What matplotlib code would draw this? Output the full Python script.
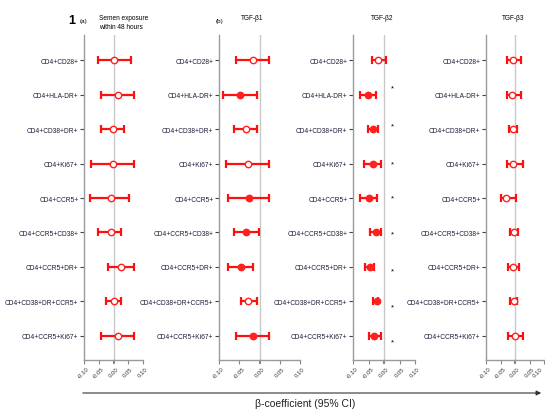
import numpy as np
import matplotlib
matplotlib.use('Agg')
import matplotlib.pyplot as plt

plt.rcParams['font.family'] = ['Liberation Sans', 'DejaVu Sans']

# row labels for each panel (top to bottom)
labels = ['CD4+CD28+', 'CD4+HLA-DR+', 'CD4+CD38+DR+', 'CD4+Ki67+', 'CD4+CCR5+',
          'CD4+CCR5+CD38+', 'CD4+CCR5+DR+', 'CD4+CD38+DR+CCR5+', 'CD4+CCR5+Ki67+']

# (a) semen exposure within 48 hours
semen_est = [0.003, 0.014, -0.003, -0.003, -0.010, -0.010, 0.024, 0.000, 0.014]
semen_lo = [-0.051, -0.041, -0.041, -0.075, -0.078, -0.051, -0.017, -0.027, -0.041]
semen_hi = [0.061, 0.071, 0.037, 0.071, 0.051, 0.027, 0.071, 0.027, 0.071]
semen_sig = [0, 0, 0, 0, 0, 0, 0, 0, 0]

# (b) TGF-b1
tgf1_est = [-0.017, -0.049, -0.034, -0.029, -0.027, -0.034, -0.046, -0.029, -0.017]
tgf1_lo = [-0.059, -0.090, -0.063, -0.083, -0.078, -0.063, -0.078, -0.046, -0.059]
tgf1_hi = [0.024, -0.007, -0.007, 0.024, 0.024, -0.002, -0.015, -0.007, 0.024]
tgf1_sig = [0, 1, 0, 0, 1, 1, 1, 0, 1]

# TGF-b2
tgf2_est = [-0.018, -0.053, -0.034, -0.037, -0.050, -0.027, -0.044, -0.024, -0.031]
tgf2_lo = [-0.040, -0.076, -0.053, -0.066, -0.076, -0.044, -0.060, -0.034, -0.050]
tgf2_hi = [0.005, -0.027, -0.018, -0.011, -0.021, -0.011, -0.031, -0.018, -0.011]
tgf2_sig = [0, 1, 1, 1, 1, 1, 1, 1, 1]
tgf2_star = ['', '*', '*', '*', '*', '*', '*', '*', '*']
star_shift = [0, -0.2, -0.1, 0, 0, 0.05, 0.12, 0.15, 0.18]

# TGF-b3
tgf3_est = [-0.007, -0.010, -0.007, -0.007, -0.030, -0.003, -0.007, -0.003, 0.000]
tgf3_lo = [-0.027, -0.027, -0.020, -0.027, -0.050, -0.017, -0.023, -0.017, -0.023]
tgf3_hi = [0.020, 0.020, 0.007, 0.027, 0.003, 0.010, 0.013, 0.007, 0.027]
tgf3_sig = [0, 0, 0, 0, 0, 0, 0, 0, 0]

xticks = [-0.10, -0.05, 0.00, 0.05, 0.10]

W, H = 545, 410
fig = plt.figure(figsize=(W / 100, H / 100), dpi=100)

panels = [
    (84, 59, semen_est, semen_lo, semen_hi, semen_sig),
    (219, 81, tgf1_est, tgf1_lo, tgf1_hi, tgf1_sig),
    (353, 62, tgf2_est, tgf2_lo, tgf2_hi, tgf2_sig),
    (486, 58, tgf3_est, tgf3_lo, tgf3_hi, tgf3_sig),
]

axes = []
for x0, w, est, lo, hi, sig in panels:
    ax = fig.add_axes([x0 / W, (H - 361) / H, w / W, 325 / H])
    axes.append(ax)
    est = np.array(est)
    y = np.arange(len(labels))
    err = [est - np.array(lo), np.array(hi) - est]
    ax.axvline(0, color='#c8c8c8', lw=1.0, zorder=0)
    ax.errorbar(est, y, xerr=err, fmt='none', ecolor='#ff1010', elinewidth=1.6,
                capsize=2.8, capthick=1.6, zorder=2)
    for yi, e, s in zip(y, est, sig):
        ax.plot(e, yi, 'o', ms=4.6, mec='#ff2020', mew=1.0,
                mfc='#ff2020' if s else 'white', zorder=3)
    ax.set_xlim(-0.10, 0.10)
    ax.set_ylim(8.7, -0.73)
    ax.set_yticks(y)
    ax.set_yticklabels(labels, fontsize=4.8, color='#1c1c3a')
    ax.set_xticks(xticks)
    ax.set_xticklabels(['%.2f' % t for t in xticks], fontsize=4.3, rotation=45,
                       color='#333333')
    ax.tick_params(axis='y', length=3, width=0.8, color='#444444', pad=1)
    ax.tick_params(axis='x', length=3, width=0.8, color='#888888', pad=1)
    for lab in ax.get_xticklabels():
        lab.set_ha('center')
    ax.get_xticklines()[4].set_color('black')
    ax.get_xticklines()[4].set_markeredgewidth(1.5)
    for sp in ['top', 'right']:
        ax.spines[sp].set_visible(False)
    for sp in ['left', 'bottom']:
        ax.spines[sp].set_color('#9a9a9a')
        ax.spines[sp].set_linewidth(1.0)
    ax.patch.set_alpha(0)

# last label on the right edge would be cut off
axes[3].get_xticklabels()[-1].set_ha('right')

# asterisks for TGF-b2
for yi, (s, d) in enumerate(zip(tgf2_star, star_shift)):
    axes[2].text(0.028, yi + d, s, fontsize=5.5, ha='center', va='center', clip_on=False)

# headers
fig.text(72 / W, 1 - 21 / H, '1', fontsize=9, fontweight='bold', ha='center', va='center')
fig.text(84 / W, 1 - 21 / H, '(a)', fontsize=4.5, ha='center', va='center')
fig.text(99 / W, 1 - 23 / H, 'Semen exposure\nwithin 48 hours', fontsize=4.7,
         ha='left', va='center', linespacing=1.3)
fig.text(219 / W, 1 - 22 / H, '(b)', fontsize=4.5, ha='center', va='center')
fig.text(252 / W, 1 - 19 / H, 'TGF-β1', fontsize=4.7, ha='center', va='center')
fig.text(382 / W, 1 - 19 / H, 'TGF-β2', fontsize=4.7, ha='center', va='center')
fig.text(513 / W, 1 - 19 / H, 'TGF-β3', fontsize=4.7, ha='center', va='center')

# bottom arrow and axis title
fig.add_artist(matplotlib.patches.FancyArrowPatch(
    (80 / W, 1 - 394 / H), (544 / W, 1 - 394 / H), transform=fig.transFigure,
    arrowstyle='-|>', mutation_scale=7, color='#333333', lw=0.8))
fig.text(305 / W, 1 - 404 / H, 'β-coefficient (95% CI)', fontsize=7.5,
         ha='center', va='center', color='#222222')

plt.savefig('out.png', dpi=100)
